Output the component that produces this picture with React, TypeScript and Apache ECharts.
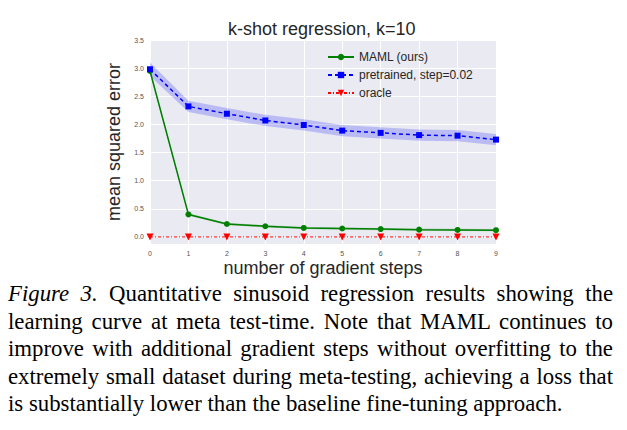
import React, { useEffect, useRef } from "react";
import * as echarts from "echarts";

const steps = ["0", "1", "2", "3", "4", "5", "6", "7", "8", "9"];
const mamlMean = [2.95, 0.4, 0.23, 0.19, 0.16, 0.15, 0.14, 0.13, 0.125, 0.12];
const mamlStd = [0.04, 0.02, 0.02, 0.02, 0.02, 0.02, 0.02, 0.02, 0.02, 0.02];
const pretrainedMean = [2.98, 2.32, 2.19, 2.07, 1.99, 1.89, 1.85, 1.81, 1.8, 1.73];
const pretrainedStd = [0.12, 0.1, 0.1, 0.1, 0.1, 0.1, 0.1, 0.1, 0.1, 0.1];
const oracle = [0, 0, 0, 0, 0, 0, 0, 0, 0, 0];
const yTicks = [0, 0.5, 1.0, 1.5, 2.0, 2.5, 3.0, 3.5];
const seriesNames = ["MAML (ours)", "pretrained, step=0.02", "oracle"];
const titleText = "k-shot regression, k=10";
const xName = "number of gradient steps";
const yName = "mean squared error";
const captionLines = [
  "Quantitative sinusoid regression results showing the",
  "learning curve at meta test-time.  Note that MAML continues to",
  "improve with additional gradient steps without overfitting to the",
  "extremely small dataset during meta-testing, achieving a loss that",
  "is substantially lower than the baseline fine-tuning approach.",
];

const SANS = "'Liberation Sans', Arial, sans-serif";
const SERIF = "'Liberation Serif', 'Times New Roman', serif";

export default function App() {
  const ref = useRef<HTMLDivElement>(null);
  useEffect(() => {
    if (!ref.current) return;
    const chart = echarts.init(ref.current, undefined, { renderer: "svg" });
    const band = (name: string, mean: number[], std: number[], color: string) => [
      {
        name: name + "-lo",
        type: "line",
        stack: name,
        data: mean.map((m, i) => m - std[i]),
        symbol: "none",
        lineStyle: { opacity: 0 },
        silent: true,
        z: 1,
      },
      {
        name: name + "-band",
        type: "line",
        stack: name,
        data: std.map((s) => 2 * s),
        symbol: "none",
        lineStyle: { opacity: 0 },
        areaStyle: { color, opacity: 1 },
        silent: true,
        z: 1,
      },
    ];
    chart.setOption({
      animation: false,
      title: {
        text: titleText,
        left: 228,
        top: 20,
        padding: 0,
        textStyle: { fontFamily: SANS, fontSize: 18, fontWeight: "normal", color: "#262626" },
      },
      grid: {
        left: 150,
        right: 131,
        top: 40,
        bottom: 186,
        show: true,
        backgroundColor: "#EAEAF2",
        borderWidth: 0,
      },
      legend: {
        data: seriesNames,
        orient: "vertical",
        left: 327,
        top: 51,
        itemWidth: 26,
        itemHeight: 8,
        itemGap: 6,
        padding: 0,
        textStyle: { fontFamily: SANS, fontSize: 12, color: "#262626" },
      },
      xAxis: {
        type: "category",
        data: steps,
        boundaryGap: false,
        name: xName,
        nameLocation: "middle",
        nameGap: 15,
        nameTextStyle: { fontFamily: SANS, fontSize: 18, color: "#262626" },
        axisLine: { show: false },
        axisTick: { show: false },
        axisLabel: { interval: 0, fontFamily: SANS, fontSize: 7, color: "#555", margin: 6 },
        splitLine: { show: true, interval: 0, lineStyle: { color: "#fff", width: 1 } },
      },
      yAxis: {
        type: "value",
        min: -0.125,
        max: 3.5,
        name: yName,
        nameLocation: "middle",
        nameGap: 8,
        nameTextStyle: { fontFamily: SANS, fontSize: 18, color: "#262626" },
        axisLine: { show: false },
        axisTick: { show: false, customValues: yTicks },
        axisLabel: {
          customValues: yTicks,
          fontFamily: SANS,
          fontSize: 7,
          color: "#555",
          margin: 6,
          formatter: (v: number) => v.toFixed(1),
        },
        splitLine: { show: false },
      },
      series: [
        {
          name: "grid-helper",
          type: "line",
          data: [],
          silent: true,
          markLine: {
            silent: true,
            symbol: "none",
            z: 1,
            label: { show: false },
            lineStyle: { color: "#fff", width: 1, type: "solid" },
            data: yTicks.map((v) => ({ yAxis: v })),
          },
        },
        ...band("pre", pretrainedMean, pretrainedStd, "rgba(0,0,255,0.2)"),
        ...band("maml", mamlMean, mamlStd, "rgba(0,128,0,0.25)"),
        {
          name: seriesNames[0],
          type: "line",
          data: mamlMean,
          symbol: "circle",
          symbolSize: 6,
          itemStyle: { color: "#008000" },
          lineStyle: { color: "#008000", width: 1.5 },
          z: 3,
        },
        {
          name: seriesNames[1],
          type: "line",
          data: pretrainedMean,
          symbol: "rect",
          symbolSize: 6,
          itemStyle: { color: "#0000ff" },
          lineStyle: { color: "#0000ff", width: 1.5, type: [4, 3] },
          z: 3,
        },
        {
          name: seriesNames[2],
          type: "line",
          data: oracle,
          symbol: "triangle",
          symbolRotate: 180,
          symbolSize: 7,
          itemStyle: { color: "#ff0000" },
          lineStyle: { color: "#ff0000", width: 1, type: [3, 2, 1, 2] },
          z: 3,
        },
      ],
    });
    return () => chart.dispose();
  }, []);

  return (
    <div style={{ position: "fixed", left: 0, top: 0, width: 627, height: 430, background: "#fff", overflow: "hidden" }}>
      <div ref={ref} style={{ position: "absolute", left: 0, top: 0, width: 627, height: 430 }} />
      <div
        style={{
          position: "absolute",
          left: 8,
          top: 280,
          width: 605,
          fontFamily: SERIF,
          fontSize: 22.8,
          lineHeight: "27.6px",
          color: "#000",
        }}
      >
        {captionLines.map((line, i) => (
          <div
            key={i}
            style={{
              textAlign: "justify",
              textAlignLast: i === captionLines.length - 1 ? "left" : "justify",
              whiteSpace: "nowrap",
            }}
          >
            {i === 0 ? (
              <>
                <i>Figure 3.</i> {line}
              </>
            ) : (
              line
            )}
          </div>
        ))}
      </div>
    </div>
  );
}
